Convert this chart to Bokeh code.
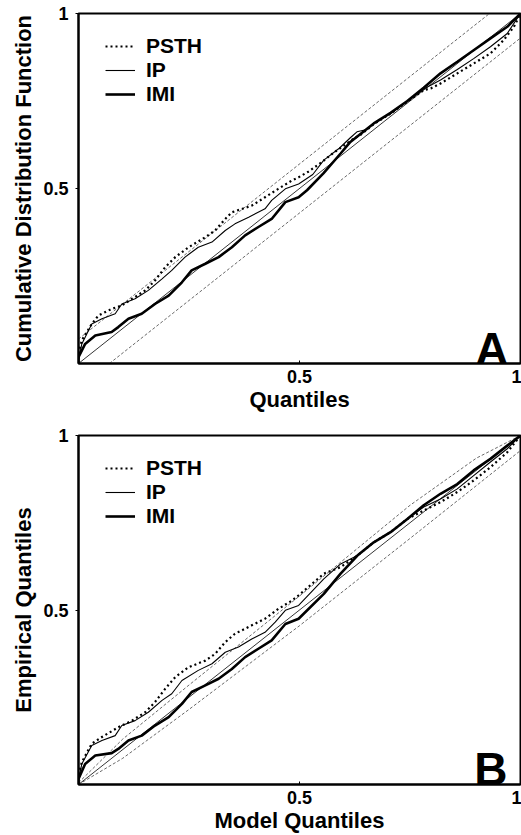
from bokeh.plotting import figure
from bokeh.models import Range1d, FixedTicker, Legend, LegendItem, Label
from bokeh.layouts import column
from bokeh.embed import file_html
from bokeh.resources import INLINE

FONT = "Liberation Sans"

# ---------------- Panel A : cumulative distribution function ----------------
a_psth_x = [0.0, 0.0, 0.0075, 0.03, 0.045, 0.075, 0.098, 0.128, 0.151, 0.173, 0.196, 0.219, 0.249,
            0.287, 0.309, 0.332, 0.347, 0.392, 0.422, 0.452, 0.483, 0.498, 0.52, 0.55, 0.578, 0.60,
            0.62, 0.64, 0.668, 0.706, 0.744, 0.781, 0.797, 0.819, 0.857, 0.894, 0.932, 0.962, 0.985, 1.0]
a_psth_y = [0.0, 0.028, 0.066, 0.113, 0.137, 0.156, 0.166, 0.19, 0.209, 0.237, 0.275, 0.304, 0.332,
            0.361, 0.38, 0.413, 0.432, 0.451, 0.475, 0.499, 0.523, 0.532, 0.548, 0.575, 0.603, 0.622,
            0.64, 0.655, 0.684, 0.714, 0.748, 0.781, 0.786, 0.80, 0.829, 0.857, 0.886, 0.924, 0.962, 1.0]

a_ip_x = [0.0, 0.0, 0.0075, 0.03, 0.053, 0.083, 0.098, 0.128, 0.158, 0.189, 0.211, 0.241, 0.271,
          0.302, 0.332, 0.354, 0.385, 0.422, 0.437, 0.468, 0.498, 0.53, 0.555, 0.59, 0.615, 0.63,
          0.65, 0.668, 0.706, 0.744, 0.781, 0.819, 0.857, 0.894, 0.932, 0.97, 1.0]
a_ip_y = [0.0, 0.009, 0.056, 0.113, 0.128, 0.142, 0.17, 0.185, 0.209, 0.242, 0.266, 0.304, 0.332,
          0.347, 0.38, 0.399, 0.418, 0.442, 0.466, 0.499, 0.513, 0.54, 0.581, 0.615, 0.645, 0.662,
          0.668, 0.686, 0.714, 0.75, 0.784, 0.81, 0.84, 0.871, 0.905, 0.943, 1.0]

a_imi_x = [0.0, 0.0, 0.015, 0.038, 0.075, 0.09, 0.113, 0.143, 0.173, 0.204, 0.234, 0.256, 0.287,
           0.317, 0.347, 0.377, 0.407, 0.437, 0.468, 0.498, 0.517, 0.554, 0.593, 0.615, 0.668,
           0.706, 0.744, 0.781, 0.819, 0.857, 0.894, 0.932, 0.97, 1.0]
a_imi_y = [0.0, 0.018, 0.056, 0.08, 0.09, 0.104, 0.128, 0.142, 0.17, 0.194, 0.232, 0.266, 0.285,
           0.304, 0.332, 0.366, 0.39, 0.413, 0.461, 0.475, 0.495, 0.543, 0.60, 0.633, 0.686,
           0.716, 0.75, 0.788, 0.829, 0.862, 0.895, 0.929, 0.962, 1.0]

a_up_x = [0.0, 0.93]
a_up_y = [0.07, 1.0]
a_lo_x = [0.07, 1.0]
a_lo_y = [0.0, 0.93]

# ---------------- Panel B : Q-Q plot ----------------
b_psth_x = [0.0, 0.0, 0.0075, 0.03, 0.053, 0.09, 0.121, 0.151, 0.173, 0.196, 0.219, 0.249, 0.287,
            0.309, 0.332, 0.354, 0.392, 0.422, 0.452, 0.483, 0.498, 0.555, 0.593, 0.631, 0.668,
            0.706, 0.744, 0.781, 0.819, 0.857, 0.894, 0.932, 0.97, 1.0]
b_psth_y = [0.0, 0.026, 0.064, 0.117, 0.136, 0.164, 0.183, 0.207, 0.236, 0.274, 0.308, 0.336, 0.355,
            0.374, 0.408, 0.432, 0.456, 0.475, 0.503, 0.527, 0.542, 0.604, 0.623, 0.656, 0.694,
            0.723, 0.761, 0.785, 0.809, 0.838, 0.871, 0.909, 0.952, 1.0]

b_ip_x = [0.0, 0.0, 0.0075, 0.03, 0.053, 0.083, 0.098, 0.128, 0.158, 0.189, 0.211, 0.234, 0.271,
          0.302, 0.332, 0.362, 0.392, 0.422, 0.445, 0.468, 0.498, 0.555, 0.593, 0.631, 0.668,
          0.706, 0.744, 0.781, 0.819, 0.857, 0.894, 0.932, 0.97, 1.0]
b_ip_y = [0.0, 0.011, 0.059, 0.112, 0.126, 0.14, 0.169, 0.183, 0.207, 0.241, 0.26, 0.298, 0.327,
          0.346, 0.379, 0.394, 0.417, 0.436, 0.465, 0.499, 0.513, 0.589, 0.632, 0.656, 0.694,
          0.723, 0.761, 0.795, 0.818, 0.847, 0.885, 0.924, 0.962, 1.0]

b_imi_x = [0.0, 0.0, 0.015, 0.038, 0.075, 0.09, 0.113, 0.143, 0.173, 0.204, 0.234, 0.256, 0.287,
           0.317, 0.347, 0.377, 0.407, 0.437, 0.468, 0.498, 0.555, 0.593, 0.631, 0.668, 0.706,
           0.744, 0.781, 0.819, 0.857, 0.894, 0.932, 0.97, 1.0]
b_imi_y = [0.0, 0.016, 0.059, 0.083, 0.09, 0.102, 0.126, 0.14, 0.169, 0.193, 0.231, 0.265, 0.284,
           0.303, 0.331, 0.365, 0.389, 0.413, 0.46, 0.475, 0.546, 0.604, 0.656, 0.694, 0.723,
           0.761, 0.80, 0.833, 0.861, 0.90, 0.933, 0.971, 1.0]

b_up_x = [0.0, 0.1, 0.25, 0.5, 0.75, 0.9, 1.0]
b_up_y = [0.005, 0.13, 0.285, 0.54, 0.80, 0.935, 1.0]
b_lo_x = [0.0, 0.1, 0.25, 0.5, 0.75, 1.0]
b_lo_y = [0.0, 0.075, 0.215, 0.455, 0.705, 0.957]

diag_x = [0.0, 1.0]
diag_y = [0.0, 1.0]

x_ticks = [0.5, 1.0]
y_ticks = [0.5, 1.0]
series_names = ["PSTH", "IP", "IMI"]


def make_panel(height, top, bottom, xlabel, ylabel, letter, curves, up, lo, legend_y, letter_dx, letter_dy):
    p = figure(width=521, height=height, output_backend="svg", toolbar_location=None,
               x_range=Range1d(0, 1), y_range=Range1d(0, 1),
               min_border_left=78, min_border_right=1, min_border_top=top, min_border_bottom=bottom)
    p.grid.visible = False
    p.outline_line_color = "black"
    p.outline_line_width = 2
    p.background_fill_color = "white"
    p.border_fill_color = "white"

    for ax in (p.xaxis[0], p.yaxis[0]):
        ax.axis_line_width = 2
        ax.axis_line_color = "black"
        ax.minor_tick_line_color = None
        ax.major_label_text_font = FONT
        ax.major_label_text_font_style = "bold"
        ax.major_label_text_font_size = "18px"
        ax.major_label_text_color = "black"
        ax.axis_label_text_font = FONT
        ax.axis_label_text_font_style = "bold"
        ax.axis_label_text_font_size = "22px"
        ax.axis_label_text_color = "black"
        ax.major_tick_line_color = "black"
        ax.major_tick_line_width = 1

    p.xaxis.ticker = FixedTicker(ticks=x_ticks)
    p.yaxis.ticker = FixedTicker(ticks=y_ticks)
    p.xaxis.major_tick_in = 3
    p.xaxis.major_tick_out = 0
    p.yaxis.major_tick_in = 0
    p.yaxis.major_tick_out = 3
    p.xaxis.major_label_standoff = 6
    p.yaxis.major_label_standoff = 7
    p.xaxis.axis_label = xlabel
    p.yaxis.axis_label = ylabel
    p.xaxis.axis_label_standoff = 1
    p.yaxis.axis_label_standoff = 4

    # reference lines
    p.line(diag_x, diag_y, line_color="black", line_width=0.8)
    p.line(up[0], up[1], line_color="#444444", line_width=0.8, line_dash="3 2")
    p.line(lo[0], lo[1], line_color="#444444", line_width=0.8, line_dash="3 2")

    (px, py), (ix, iy), (mx, my) = curves
    r_psth = p.line(px, py, line_color="black", line_width=2.2, line_dash="2 3")
    r_ip = p.line(ix, iy, line_color="black", line_width=1.1)
    r_imi = p.line(mx, my, line_color="black", line_width=2.6)

    legend = Legend(items=[LegendItem(label=series_names[0], renderers=[r_psth]),
                           LegendItem(label=series_names[1], renderers=[r_ip]),
                           LegendItem(label=series_names[2], renderers=[r_imi])],
                    location=(27, legend_y), orientation="vertical",
                    label_text_font=FONT, label_text_font_style="bold", label_text_font_size="21px",
                    label_text_color="black", glyph_width=30, glyph_height=20, label_standoff=11,
                    spacing=-1, padding=0, margin=0,
                    border_line_alpha=0, background_fill_alpha=0)
    p.add_layout(legend, "center")

    p.add_layout(Label(x=1, y=0, text=letter, x_offset=letter_dx, y_offset=letter_dy,
                       text_align="right", text_baseline="alphabetic",
                       text_font=FONT, text_font_style="bold", text_font_size="46px",
                       text_color="black"))
    p.add_layout(Label(x=0, y=0, text="0", x_offset=-10, y_offset=-11,
                       text_align="center", text_baseline="top",
                       text_font=FONT, text_font_style="bold", text_font_size="18px",
                       text_color="black"))
    return p


pA = make_panel(420, 13, 57, "Quantiles", "Cumulative Distribution Function", "A",
                [(a_psth_x, a_psth_y), (a_ip_x, a_ip_y), (a_imi_x, a_imi_y)],
                (a_up_x, a_up_y), (a_lo_x, a_lo_y), 257, -12, 15)
pB = make_panel(415, 15, 51, "Model Quantiles", "Empirical Quantiles", "B",
                [(b_psth_x, b_psth_y), (b_ip_x, b_ip_y), (b_imi_x, b_imi_y)],
                (b_up_x, b_up_y), (b_lo_x, b_lo_y), 256, -13, 16)

layout = column(pA, pB, spacing=0)
open("out.html", "w").write(file_html(layout, INLINE))
